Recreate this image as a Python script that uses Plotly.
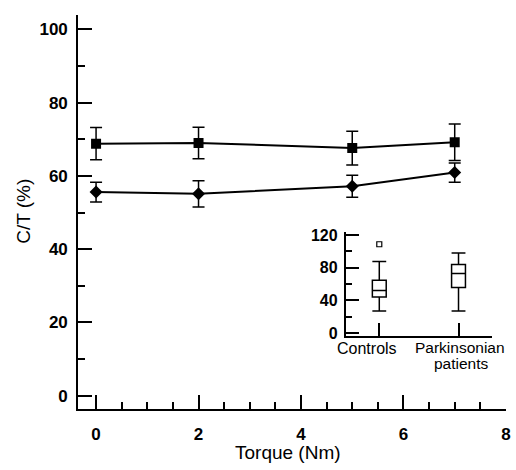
import plotly.graph_objects as go

# ---- main panel data ----
torque = [0, 2, 5, 7]
sq_mean = [68.8, 69.0, 67.6, 69.2]
sq_err = [4.4, 4.3, 4.6, 5.0]
dia_mean = [55.6, 55.1, 57.2, 60.9]
dia_err = [2.7, 3.6, 3.0, 2.6]

# ---- inset box-plot data ----
groups = [0, 1]
group_labels = ["Controls", "Parkinsonian", "patients"]
q1 = [44.2, 55.8]
median = [52.2, 72.8]
q3 = [64.8, 83.9]
lowerfence = [27.1, 27.1]
upperfence = [87.5, 97.9]
outlier_x = [0]
outlier_y = [108.7]

W, H = 516, 470
FONT = "Liberation Sans"
tickfont = dict(family=FONT, size=17, color="black", weight="bold")

fig = go.Figure()

err_style = dict(type="data", color="black", thickness=1.5, width=6)

fig.add_trace(go.Scatter(
    x=torque, y=sq_mean, mode="lines+markers",
    line=dict(color="black", width=2),
    marker=dict(symbol="square", size=10, color="black"),
    error_y=dict(array=sq_err, **err_style),
    xaxis="x", yaxis="y", showlegend=False))

fig.add_trace(go.Scatter(
    x=torque, y=dia_mean, mode="lines+markers",
    line=dict(color="black", width=2),
    marker=dict(symbol="diamond", size=10, color="black"),
    error_y=dict(array=dia_err, **err_style),
    xaxis="x", yaxis="y", showlegend=False))

fig.add_trace(go.Box(
    x=groups, q1=q1, median=median, q3=q3,
    lowerfence=lowerfence, upperfence=upperfence,
    width=0.175, whiskerwidth=1, boxpoints=False,
    line=dict(color="black", width=1.5), fillcolor="white",
    xaxis="x2", yaxis="y2", showlegend=False))

fig.add_trace(go.Scatter(
    x=outlier_x, y=outlier_y, mode="markers",
    marker=dict(symbol="square-open", size=5, color="black", line=dict(width=1.2)),
    xaxis="x2", yaxis="y2", showlegend=False))

def px_x(a, b):
    return [a / W, b / W]

def px_y(top, bottom):
    return [(H - bottom) / H, (H - top) / H]

fig.update_layout(
    width=W, height=H,
    margin=dict(l=0, r=0, t=0, b=0),
    paper_bgcolor="white", plot_bgcolor="white",
    xaxis=dict(
        domain=px_x(79, 511), range=[-0.348, 8.002],
        tickvals=[0, 2, 4, 6, 8], ticks="inside", ticklen=14, tickwidth=1.5,
        tickcolor="black", showline=True, linecolor="black", linewidth=2,
        showgrid=False, zeroline=False, tickfont=tickfont, ticklabelstandoff=8,
        minor=dict(dtick=0.5, tick0=0, ticks="inside", ticklen=7, tickwidth=1.5,
                   tickcolor="black", showgrid=False),
        anchor="y"),
    yaxis=dict(
        domain=px_y(10, 414), range=[-3.733, 104],
        tickvals=[0, 20, 40, 60, 80, 100], ticks="inside", ticklen=14, tickwidth=1.5,
        tickcolor="black", showline=True, linecolor="black", linewidth=2,
        showgrid=False, zeroline=False, tickfont=tickfont, ticklabelstandoff=5,
        minor=dict(dtick=10, tick0=0, ticks="inside", ticklen=7, tickwidth=1.5,
                   tickcolor="black", showgrid=False),
        anchor="x"),
    xaxis2=dict(
        domain=px_x(349, 497), range=[-0.425, 1.425],
        tickvals=groups, ticks="inside", ticklen=13, tickwidth=1.5,
        tickcolor="black", showline=True, linecolor="black", linewidth=1.5,
        showgrid=False, zeroline=False, showticklabels=False, anchor="y2"),
    yaxis2=dict(
        domain=px_y(232, 339), range=[-3.6, 124.2],
        tickvals=[0, 40, 80, 120], ticks="inside", ticklen=14, tickwidth=1.5,
        tickcolor="black", showline=True, linecolor="black", linewidth=1.5,
        showgrid=False, zeroline=False,
        tickfont=dict(family=FONT, size=16, color="black", weight="bold"),
        ticklabelstandoff=3,
        minor=dict(dtick=20, tick0=0, ticks="inside", ticklen=7, tickwidth=1.5,
                   tickcolor="black", showgrid=False),
        anchor="x2"),
)

def ann(text, x, y, size, angle=0):
    fig.add_annotation(text=text, x=x / W, y=(H - y) / H, xref="paper", yref="paper",
                       showarrow=False, textangle=angle, xanchor="center", yanchor="middle",
                       font=dict(family=FONT, size=size, color="black"))

ann("Torque (Nm)", 291, 458, 19)
ann("C/T (%)", 23, 211, 19, -90)
ann(group_labels[0], 371, 352, 16)
ann(group_labels[1], 465, 351, 15.5)
ann(group_labels[2], 466, 367.5, 15.5)

fig.write_html(
    "out.html",
    config={"displayModeBar": False},
    post_script="document.body.style.margin='0';document.body.style.overflow='hidden';",
)
